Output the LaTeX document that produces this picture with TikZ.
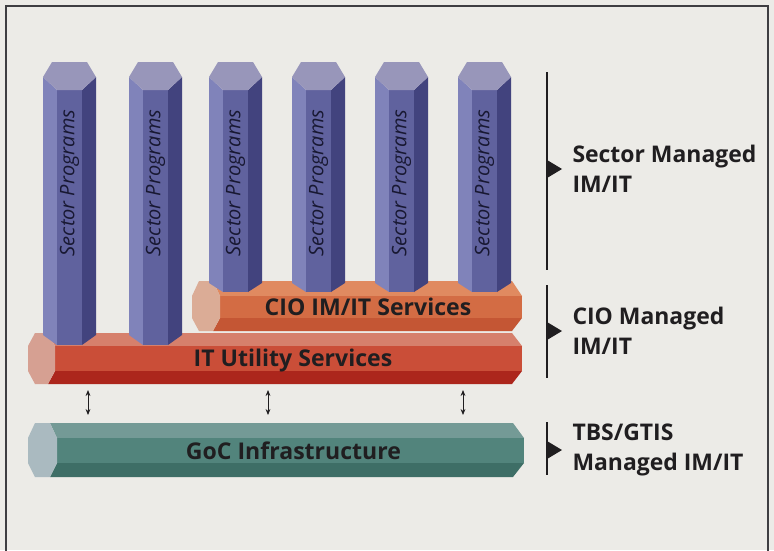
\documentclass[tikz,border=0pt]{standalone}
\usepackage{fontspec}
\setmainfont{Open Sans}
\usetikzlibrary{arrows.meta}

% paper, frame and text
\definecolor{paper}{RGB}{236,235,231}
\definecolor{framegray}{RGB}{62,62,66}
\definecolor{inkdark}{RGB}{32,30,32}
\definecolor{inknavy}{RGB}{24,24,50}
% sector columns
\definecolor{colcap}{RGB}{152,150,186}
\definecolor{colleft}{RGB}{128,131,186}
\definecolor{colmid}{RGB}{96,98,158}
\definecolor{colright}{RGB}{66,67,126}
% CIO bar
\definecolor{ciocap}{RGB}{219,172,150}
\definecolor{ciotop}{RGB}{224,138,96}
\definecolor{ciofront}{RGB}{211,108,68}
\definecolor{ciobottom}{RGB}{196,86,52}
% IT utility bar
\definecolor{itcap}{RGB}{214,160,146}
\definecolor{ittop}{RGB}{214,128,108}
\definecolor{itfront}{RGB}{202,78,56}
\definecolor{itbottom}{RGB}{172,38,28}
% GoC bar
\definecolor{goccap}{RGB}{170,186,192}
\definecolor{goctop}{RGB}{116,154,150}
\definecolor{gocfront}{RGB}{82,132,124}
\definecolor{gocbottom}{RGB}{62,110,102}

\tikzset{every picture/.style={line width=0.75pt}}
\tikzset{
  progtext/.style={rotate=90, inner sep=0pt, text=inknavy, font=\fontsize{15}{17}\selectfont\itshape},
  bartext/.style={anchor=base, inner sep=0pt, text=inkdark, font=\fontsize{17.3}{20}\selectfont\bfseries},
  sidetext/.style={anchor=west, inner sep=0pt, align=left, text=inkdark, font=\fontsize{17.2}{22.5}\selectfont\bfseries},
  updown/.style={{Stealth[length=4.5pt,width=3.6pt]}-{Stealth[length=4.5pt,width=3.6pt]}, line width=0.6pt, inkdark},
  bracket/.style={line width=1.1pt, inkdark}
}

\begin{document}
\begin{tikzpicture}[x=0.75pt,y=0.75pt,yscale=-1,xscale=1]
\useasboundingbox (0,0) rectangle (774,550);
\fill [paper] (0,0) rectangle (774,550);

% Frame, bottom edge runs off the page
\draw [framegray, line width=1.6pt] (6,560) -- (6,6) -- (768,6) -- (768,560);

% GoC Infrastructure bar
\fill [goctop] (50,423) -- (513,423) -- (524,438) -- (57,438) -- cycle;
\fill [gocfront] (57,438) -- (524,438) -- (524,463) -- (57,463) -- cycle;
\fill [gocbottom] (57,463) -- (524,463) -- (513,477) -- (50,477) -- cycle;
\fill [goccap] (35,423) -- (50,423) -- (57,438) -- (57,463) -- (50,477) -- (35,477) -- (28,463) -- (28,438) -- cycle;

% IT Utility Services bar
\fill [ittop] (48,333) -- (512,333) -- (522,346) -- (55,346) -- cycle;
\fill [itfront] (55,346) -- (522,346) -- (522,371) -- (55,371) -- cycle;
\fill [itbottom] (55,371) -- (522,371) -- (512,384) -- (48,384) -- cycle;
\fill [itcap] (35,333) -- (48,333) -- (55,346) -- (55,371) -- (48,384) -- (35,384) -- (28,371) -- (28,346) -- cycle;

% CIO IM/IT Services bar
\fill [ciotop] (213,281) -- (512,281) -- (522,296) -- (220,296) -- cycle;
\fill [ciofront] (220,296) -- (522,296) -- (522,318) -- (220,318) -- cycle;
\fill [ciobottom] (220,318) -- (522,318) -- (512,331) -- (213,331) -- cycle;
\fill [ciocap] (199,281) -- (213,281) -- (220,296) -- (220,318) -- (213,331) -- (199,331) -- (192,318) -- (192,296) -- cycle;

% Sector column 1
\fill [colleft] (43,77) -- (57,90) -- (57,345) -- (43,335) -- cycle;
\fill [colmid] (57,90) -- (82,90) -- (82,345) -- (57,345) -- cycle;
\fill [colright] (82,90) -- (96,77) -- (96,335) -- (82,345) -- cycle;
\fill [colcap] (52,62) -- (87,62) -- (96,77) -- (82,90) -- (57,90) -- (43,77) -- cycle;
% Sector column 2
\fill [colleft] (129,77) -- (143,90) -- (143,345) -- (129,335) -- cycle;
\fill [colmid] (143,90) -- (168,90) -- (168,345) -- (143,345) -- cycle;
\fill [colright] (168,90) -- (182,77) -- (182,335) -- (168,345) -- cycle;
\fill [colcap] (138,62) -- (173,62) -- (182,77) -- (168,90) -- (143,90) -- (129,77) -- cycle;
% Sector column 3
\fill [colleft] (209,77) -- (223,90) -- (223,292) -- (209,283) -- cycle;
\fill [colmid] (223,90) -- (248,90) -- (248,292) -- (223,292) -- cycle;
\fill [colright] (248,90) -- (262,77) -- (262,283) -- (248,292) -- cycle;
\fill [colcap] (218,62) -- (253,62) -- (262,77) -- (248,90) -- (223,90) -- (209,77) -- cycle;
% Sector column 4
\fill [colleft] (292,77) -- (306,90) -- (306,292) -- (292,283) -- cycle;
\fill [colmid] (306,90) -- (331,90) -- (331,292) -- (306,292) -- cycle;
\fill [colright] (331,90) -- (345,77) -- (345,283) -- (331,292) -- cycle;
\fill [colcap] (301,62) -- (336,62) -- (345,77) -- (331,90) -- (306,90) -- (292,77) -- cycle;
% Sector column 5
\fill [colleft] (375,77) -- (389,90) -- (389,292) -- (375,283) -- cycle;
\fill [colmid] (389,90) -- (414,90) -- (414,292) -- (389,292) -- cycle;
\fill [colright] (414,90) -- (428,77) -- (428,283) -- (414,292) -- cycle;
\fill [colcap] (384,62) -- (419,62) -- (428,77) -- (414,90) -- (389,90) -- (375,77) -- cycle;
% Sector column 6
\fill [colleft] (458,77) -- (472,90) -- (472,292) -- (458,283) -- cycle;
\fill [colmid] (472,90) -- (497,90) -- (497,292) -- (472,292) -- cycle;
\fill [colright] (497,90) -- (511,77) -- (511,283) -- (497,292) -- cycle;
\fill [colcap] (467,62) -- (502,62) -- (511,77) -- (497,90) -- (472,90) -- (458,77) -- cycle;

% Column labels
\node [progtext] (prog1) at (69.5,183) {Sector Programs};
\node [progtext] (prog2) at (155.5,183) {Sector Programs};
\node [progtext] (prog3) at (235.5,183) {Sector Programs};
\node [progtext] (prog4) at (318.5,183) {Sector Programs};
\node [progtext] (prog5) at (401.5,183) {Sector Programs};
\node [progtext] (prog6) at (484.5,183) {Sector Programs};

% Bar labels
\node [bartext] (cio) at (368,315) {CIO IM/IT Services};
\node [bartext] (utility) at (293,366) {IT Utility Services};
\node [bartext] (goc) at (293.5,459) {GoC Infrastructure};

% Links between utility bar and infrastructure
\coordinate (up1) at (88,390);   \coordinate (dn1) at (88,415);
\coordinate (up2) at (268,390);  \coordinate (dn2) at (268,415);
\coordinate (up3) at (463,390);  \coordinate (dn3) at (463,415);
\draw [updown] (up1) -- (dn1);
\draw [updown] (up2) -- (dn2);
\draw [updown] (up3) -- (dn3);

% Brackets on the right
\coordinate (sectortop) at (547,72);   \coordinate (sectorbot) at (547,270);
\coordinate (ciotop) at (547,285);     \coordinate (ciobot) at (547,378);
\coordinate (tbstop) at (547,422);     \coordinate (tbsbot) at (547,475);
\draw [bracket] (sectortop) -- (sectorbot);
\draw [bracket] (ciotop) -- (ciobot);
\draw [bracket] (tbstop) -- (tbsbot);
\fill [inkdark] (547,160) -- (562,169) -- (547,178) -- cycle;
\fill [inkdark] (547,322) -- (562,331) -- (547,340) -- cycle;
\fill [inkdark] (547,441) -- (562,450) -- (547,459) -- cycle;

% Right-hand labels
\node [sidetext] (sectorlbl) at (572,169) {Sector Managed\\IM/IT};
\node [sidetext] (ciolbl) at (572,331) {CIO Managed\\IM/IT};
\node [sidetext] (tbslbl) at (572,450) {TBS/GTIS\\Managed IM/IT};

\end{tikzpicture}
\end{document}
